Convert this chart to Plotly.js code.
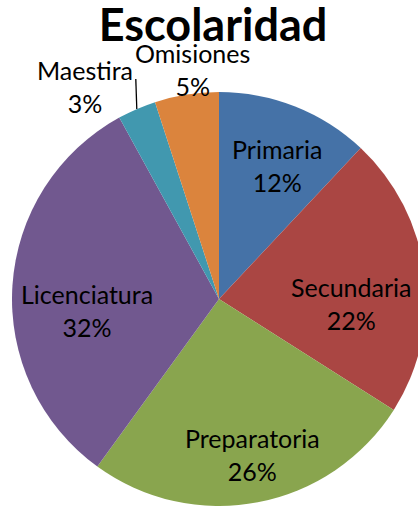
<!DOCTYPE html>
<html>
<head>
<meta charset="utf-8">
<script src="https://cdn.plot.ly/plotly-3.0.1.min.js"></script>
<style>
html,body{margin:0;padding:0;overflow:hidden;background:#fff;}
#chart{width:438px;height:506px;}
</style>
</head>
<body>
<div id="chart"></div>
<script>
const categories = ["Primaria", "Secundaria", "Preparatoria", "Licenciatura", "Maestira", "Omisiones"];
const values = [12, 22, 26, 32, 3, 5];
const colors = ["#4572A7", "#AA4643", "#89A54E", "#71588F", "#4198AF", "#DB843D"];
const chartTitle = "Escolaridad";

// label placement styles (radius as fraction of pie radius, angle nudge in degrees)
const labelRadius = [0.702, 0.638, 0.768, 0.638, 1.215, 1.114];
const labelAngleShift = [2.1, 9.2, -1.2, -8.4, -8.9, 2.3];
const leaderLine = [false, false, false, false, true, false];

const W = 438, H = 506;
const CX = 219, CY = 299, R = 207;
const FONT = "Lato, Open Sans, sans-serif";

const trace = {
  type: "pie",
  labels: categories,
  values: values,
  sort: false,
  direction: "clockwise",
  rotation: 0,
  marker: {colors: colors, line: {width: 0}},
  textinfo: "none",
  hoverinfo: "none",
  domain: {x: [(CX - R)/W, (CX + R)/W], y: [(H - CY - R)/H < 0 ? 0 : (H - CY - R)/H, (H - CY + R)/H]},
  showlegend: false
};

const total = values.reduce((a, b) => a + b, 0);
const annotations = [];
const shapes = [];
let cum = 0;
values.forEach((v, i) => {
  const mid = (cum + v / 2) / total * 360;
  cum += v;
  const ang = (mid + labelAngleShift[i]) * Math.PI / 180;
  const r = labelRadius[i] * R;
  const px = CX + r * Math.sin(ang);
  const py = CY - r * Math.cos(ang);
  const pct = Math.round(v / total * 100);
  annotations.push({
    text: categories[i] + "<br>" + pct + "%",
    x: px / W, y: 1 - py / H, xref: "paper", yref: "paper",
    xanchor: "center", yanchor: "middle", showarrow: false,
    font: {family: FONT, size: 25, color: "#000"}
  });
  if (leaderLine[i]) {
    const m = mid * Math.PI / 180;
    const sx = CX + R * Math.sin(m), sy = CY - R * Math.cos(m);
    shapes.push({
      type: "line", xref: "paper", yref: "paper",
      x0: sx / W, y0: 1 - sy / H, x1: (sx - 1) / W, y1: 1 - (sy - 30) / H,
      line: {color: "#000", width: 1.3}
    });
  }
});

const layout = {
  width: W, height: H,
  margin: {l: 0, r: 0, t: 0, b: 0},
  paper_bgcolor: "#fff",
  showlegend: false,
  annotations: annotations,
  shapes: shapes,
  title: {
    text: "<b>" + chartTitle + "</b>",
    font: {family: FONT, size: 45, color: "#000"},
    x: 213/W, xanchor: "center",
    y: 1 - 25/H, yanchor: "middle",
    xref: "paper", yref: "container"
  }
};

Plotly.newPlot("chart", [trace], layout, {displayModeBar: false, staticPlot: true});
</script>
</body>
</html>
